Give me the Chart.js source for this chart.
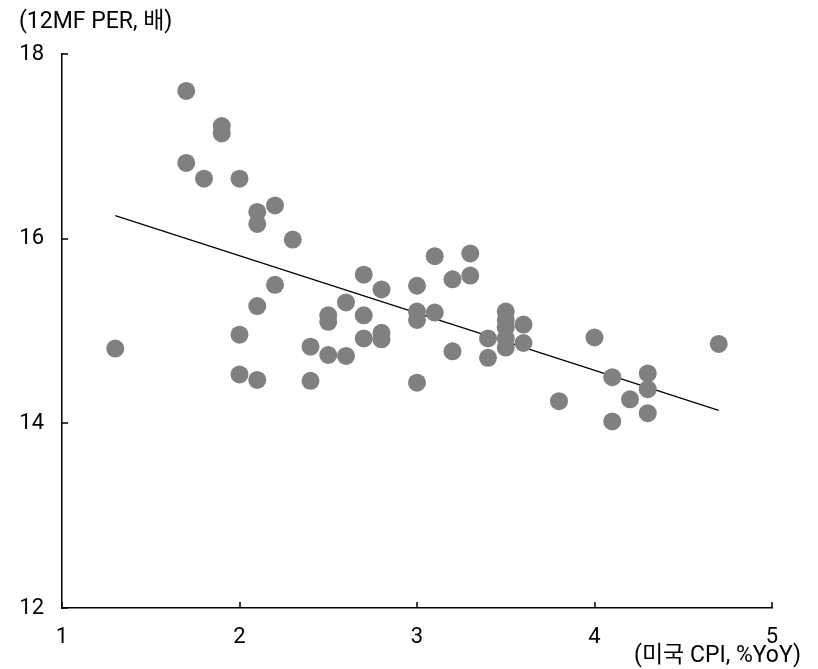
<!DOCTYPE html>
<html>
<head>
<meta charset="utf-8">
<script src="https://cdn.jsdelivr.net/npm/chart.js@4"></script>
<style>
  html, body { margin: 0; padding: 0; background: #fff; }
  #wrap { width: 818px; height: 669px; position: relative; }
</style>
</head>
<body>
<div id="wrap"><canvas id="scatterCanvas"></canvas></div>
<script>
// CPI (%YoY) vs 12MF PER
const cpiValues = [
  1.3, 1.7, 1.7, 1.8, 1.9, 1.9, 2.0, 2.0, 2.0,
  2.1, 2.1, 2.1, 2.1, 2.2, 2.2, 2.3, 2.4, 2.4,
  2.5, 2.5, 2.5, 2.6, 2.6, 2.7, 2.7, 2.7, 2.8, 2.8, 2.8,
  3.0, 3.0, 3.0, 3.0, 3.1, 3.1, 3.2, 3.2, 3.3, 3.3, 3.4, 3.4,
  3.5, 3.5, 3.5, 3.5, 3.5, 3.6, 3.6, 3.8, 4.0, 4.1, 4.1, 4.2,
  4.3, 4.3, 4.3, 4.7
];
const perValues = [
  14.81, 17.60, 16.82, 16.65, 17.22, 17.14, 16.65, 14.96, 14.53,
  16.29, 16.16, 15.27, 14.47, 16.36, 15.50, 15.99, 14.83, 14.46,
  15.17, 15.10, 14.74, 15.31, 14.73, 15.61, 15.17, 14.92, 15.45, 14.98, 14.91,
  15.49, 15.21, 15.12, 14.44, 15.81, 15.20, 15.56, 14.78, 15.84, 15.60, 14.92, 14.71,
  15.21, 15.12, 15.04, 14.92, 14.82, 15.07, 14.87, 14.24, 14.93, 14.50, 14.02, 14.26,
  14.54, 14.37, 14.11, 14.86
];
// trend line ends
const trendX = [1.3, 4.7];
const trendY = [16.25, 14.14];

const xTicks = [1, 2, 3, 4, 5];
const yTicks = [12, 14, 16, 18];
const yUnitLabel = '(12MF PER, 배)';
const xUnitLabel = '(미국 CPI, %YoY)';

const fontFamily = 'Roboto, "Noto Sans CJK KR", sans-serif';

const points = cpiValues.map((x, i) => ({ x: x, y: perValues[i] }));
const trend = trendX.map((x, i) => ({ x: x, y: trendY[i] }));

// inner tick marks + unit labels
const extrasPlugin = {
  id: 'extras',
  afterDraw(chart) {
    const ctx = chart.ctx;
    const xs = chart.scales.x, ys = chart.scales.y;
    const area = chart.chartArea;
    ctx.save();
    ctx.strokeStyle = '#000';
    ctx.lineWidth = 1.5;
    ctx.beginPath();
    xTicks.forEach(v => {
      const px = Math.round(xs.getPixelForValue(v));
      ctx.moveTo(px, area.bottom);
      ctx.lineTo(px, area.bottom - 6);
    });
    yTicks.forEach(v => {
      const py = Math.round(ys.getPixelForValue(v));
      ctx.moveTo(area.left, py);
      ctx.lineTo(area.left + 6, py);
    });
    ctx.stroke();

    ctx.fillStyle = '#000';
    ctx.font = '23px ' + fontFamily;
    ctx.textBaseline = 'middle';
    ctx.textAlign = 'left';
    ctx.fillText(yUnitLabel, 19, 22);
    ctx.textAlign = 'right';
    ctx.fillText(xUnitLabel, 801, 656);
    ctx.restore();
  }
};

new Chart(document.getElementById('scatterCanvas'), {
  type: 'scatter',
  data: {
    datasets: [
      {
        type: 'line',
        data: trend,
        borderColor: '#000',
        borderWidth: 1.2,
        pointRadius: 0,
        fill: false,
        tension: 0,
        order: 2
      },
      {
        data: points,
        backgroundColor: '#808080',
        borderWidth: 0,
        pointRadius: 9,
        pointHoverRadius: 9,
        order: 1
      }
    ]
  },
  options: {
    responsive: true,
    maintainAspectRatio: false,
    animation: false,
    layout: { padding: { top: 54, right: 46, bottom: 0, left: 0 } },
    plugins: {
      legend: { display: false },
      tooltip: { enabled: false }
    },
    scales: {
      x: {
        type: 'linear',
        min: 1,
        max: 5,
        afterBuildTicks(scale) { scale.ticks = xTicks.map(v => ({ value: v })); },
        afterFit(scale) { scale.height = 61; },
        grid: { display: false, drawTicks: false },
        border: { display: true, color: '#000', width: 1.5 },
        ticks: { color: '#000', padding: 16, font: { size: 22, family: fontFamily } }
      },
      y: {
        type: 'linear',
        min: 12,
        max: 18,
        afterBuildTicks(scale) { scale.ticks = yTicks.map(v => ({ value: v })); },
        afterFit(scale) { scale.width = 62; },
        grid: { display: false, drawTicks: false },
        border: { display: true, color: '#000', width: 1.5 },
        ticks: { color: '#000', padding: 18, font: { size: 22, family: fontFamily } }
      }
    }
  },
  plugins: [extrasPlugin]
});
</script>
</body>
</html>
